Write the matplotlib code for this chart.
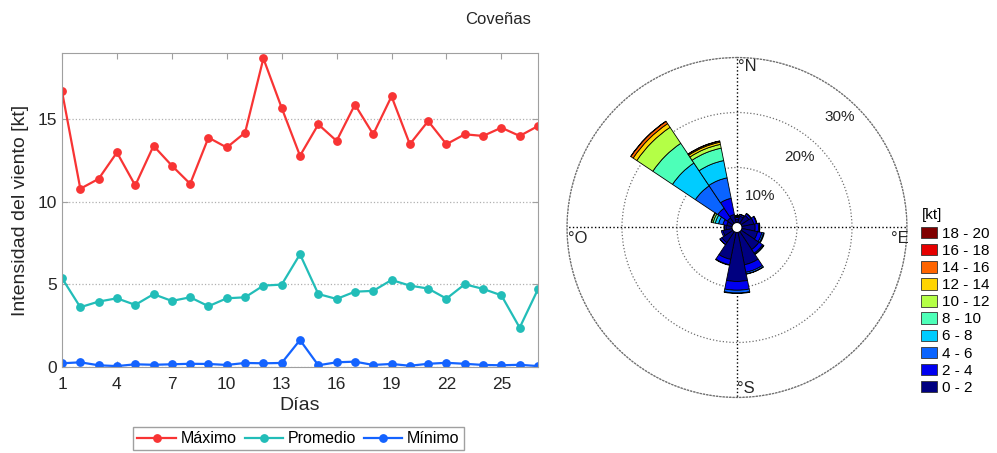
import matplotlib.pyplot as plt
import numpy as np
from matplotlib.patches import Patch

plt.rcParams['font.family'] = ['Liberation Sans', 'DejaVu Sans']

# Daily wind intensity [kt]
dias = list(range(1, 28))
maximo = [16.7, 10.8, 11.4, 13.0, 11.0, 13.4, 12.2, 11.1, 13.9, 13.3, 14.2, 18.7, 15.7, 12.8,
          14.7, 13.7, 15.9, 14.1, 16.4, 13.5, 14.9, 13.5, 14.1, 14.0, 14.5, 14.0, 14.6]
promedio = [5.38, 3.62, 3.96, 4.16, 3.76, 4.41, 4.00, 4.22, 3.68, 4.16, 4.22, 4.93, 4.99, 6.83,
            4.42, 4.12, 4.56, 4.61, 5.27, 4.93, 4.75, 4.14, 5.01, 4.73, 4.34, 2.38, 4.71]
minimo = [0.22, 0.28, 0.10, 0.05, 0.16, 0.13, 0.16, 0.19, 0.18, 0.12, 0.24, 0.22, 0.24, 1.63,
          0.10, 0.28, 0.32, 0.12, 0.18, 0.07, 0.19, 0.25, 0.19, 0.12, 0.10, 0.13, 0.05]
dias_ticks = [1, 4, 7, 10, 13, 16, 19, 22, 25]

# Wind rose: frequency [%] per direction for each speed range
direcciones = ['N', 'NNE', 'NE', 'ENE', 'E', 'ESE', 'SE', 'SSE',
               'S', 'SSW', 'SW', 'WSW', 'W', 'WNW', 'NW', 'NNW']
rangos = ['0 - 2', '2 - 4', '4 - 6', '6 - 8', '8 - 10',
          '10 - 12', '12 - 14', '14 - 16', '16 - 18', '18 - 20']
colores = ['#000080', '#0000f0', '#0a64ff', '#00ccff', '#4dffb8',
           '#b4ff46', '#ffd400', '#ff6400', '#e60000', '#800000']
f_0_2 = [0.6, 1.2, 1.7, 2.2, 2.4, 2.9, 3.9, 6.0, 8.9, 5.0, 2.4, 1.7, 1.1, 1.0, 1.2, 1.5]
f_2_4 = [0.3, 0.3, 0.4, 0.5, 0.6, 0.8, 0.8, 1.4, 1.6, 1.0, 0.4, 0.3, 0.3, 0.7, 2.1, 3.0]
f_4_6 = [0.1, 0.05, 0.1, 0.1, 0.2, 0.3, 0.2, 0.3, 0.5, 0.1, 0.05, 0, 0.05, 0.8, 4.9, 3.8]
f_6_8 = [0.1, 0, 0, 0, 0.05, 0.15, 0.1, 0.05, 0.1, 0, 0, 0, 0, 0.6, 5.0, 3.2]
f_8_10 = [0.1, 0, 0, 0, 0, 0, 0, 0, 0, 0, 0, 0, 0, 0.4, 4.3, 2.3]
f_10_12 = [0.1, 0, 0, 0, 0, 0, 0, 0, 0, 0, 0, 0, 0, 0.3, 3.5, 0.7]
f_12_14 = [0, 0, 0, 0, 0, 0, 0, 0, 0, 0, 0, 0, 0, 0.1, 0.8, 0.4]
f_14_16 = [0, 0, 0, 0, 0, 0, 0, 0, 0, 0, 0, 0, 0, 0, 0.5, 0.2]
f_16_18 = [0, 0, 0, 0, 0, 0, 0, 0, 0, 0, 0, 0, 0, 0, 0.05, 0.05]
f_18_20 = [0] * 16
frecuencias = [f_0_2, f_2_4, f_4_6, f_6_8, f_8_10,
               f_10_12, f_12_14, f_14_16, f_16_18, f_18_20]

texto = '#262626'
fig = plt.figure(figsize=(9.97, 4.53), dpi=100)
fig.text(0.5, 0.958, 'Coveñas', ha='center', va='center', fontsize=12, color=texto)

# ---- time series ----
ax = fig.add_axes([0.0622, 0.19, 0.4774, 0.692])
ax.plot(dias, maximo, '-o', color='#f83434', lw=1.6, ms=5.3, label='Máximo')
ax.plot(dias, promedio, '-o', color='#22bdb8', lw=1.6, ms=5.3, label='Promedio')
ax.plot(dias, minimo, '-o', color='#1463ff', lw=1.6, ms=5.3, label='Mínimo')
ax.set_xlim(1, 27)
ax.set_ylim(0, 19)
ax.set_xticks(dias_ticks)
ax.set_yticks([0, 5, 10, 15])
ax.yaxis.grid(True, linestyle=':', color='#b0b0b0', lw=0.9)
ax.tick_params(direction='in', top=True, right=True, labelsize=12.5,
               colors='#a0a0a0', labelcolor=texto, length=4)
ax.tick_params(axis='x', pad=7)
for s in ax.spines.values():
    s.set_color('#a0a0a0')
ax.set_xlabel('Días', fontsize=14, color=texto, labelpad=4)
ax.set_ylabel('Intensidad del viento [kt]', fontsize=14, color=texto, labelpad=6)

fig.legend(loc='center', bbox_to_anchor=(0.2994, 0.031), ncol=3, fontsize=11.5,
           frameon=True, fancybox=False, edgecolor='#888888', handlelength=2.4,
           handletextpad=0.3, columnspacing=0.5, borderpad=0.25, borderaxespad=0)

# ---- wind rose ----
axr = fig.add_axes([0.5687, 0.1225, 0.341, 0.7506], projection='polar')
axr.set_theta_zero_location('N')
axr.set_theta_direction(-1)
ancho = 2 * np.pi / len(direcciones)
theta = np.arange(len(direcciones)) * ancho
base = np.zeros(len(direcciones))
for freq, color in zip(frecuencias, colores):
    freq = np.array(freq, dtype=float)
    m = freq > 0
    axr.bar(theta[m], freq[m], width=ancho, bottom=base[m], color=color,
            edgecolor='black', linewidth=0.6, align='center', zorder=3)
    base += freq
axr.set_rorigin(-0.91)
axr.set_ylim(0, 30)
axr.set_yticks([10, 20, 30])
axr.set_yticklabels([])
axr.set_xticks(np.radians([0, 90, 180, 270]))
axr.set_xticklabels([])
axr.yaxis.grid(True, linestyle=':', color='#707070', lw=0.9)
axr.xaxis.grid(True, linestyle=':', color='black', lw=1.0)
axr.spines['polar'].set_linestyle(':')
axr.spines['polar'].set_color('#707070')
axr.spines['polar'].set_linewidth(0.9)

for x, y, t in [(0.503, 0.975, '°N'), (0.003, 0.469, '°O'),
                (0.952, 0.469, '°E'), (0.5, 0.025, '°S')]:
    axr.text(x, y, t, transform=axr.transAxes, ha='left', va='center',
             fontsize=12, color=texto)
for x, y, t in [(0.568, 0.593, '10%'), (0.685, 0.707, '20%'), (0.803, 0.825, '30%')]:
    axr.text(x, y, t, transform=axr.transAxes, ha='center', va='center',
             fontsize=11, color=texto)

parches = [Patch(facecolor=c, edgecolor='#333333', linewidth=0.6) for c in colores]
leg = fig.legend(parches[::-1], rangos[::-1], title='[kt]', loc='upper left',
                 bbox_to_anchor=(0.915, 0.562), frameon=False, fontsize=11,
                 title_fontsize=11, handlelength=1.05, handleheight=0.75,
                 handletextpad=0.3, labelspacing=0.2, alignment='left', borderpad=0.1)
leg._legend_box.sep = 4

fig.savefig('out.png', dpi=100)
